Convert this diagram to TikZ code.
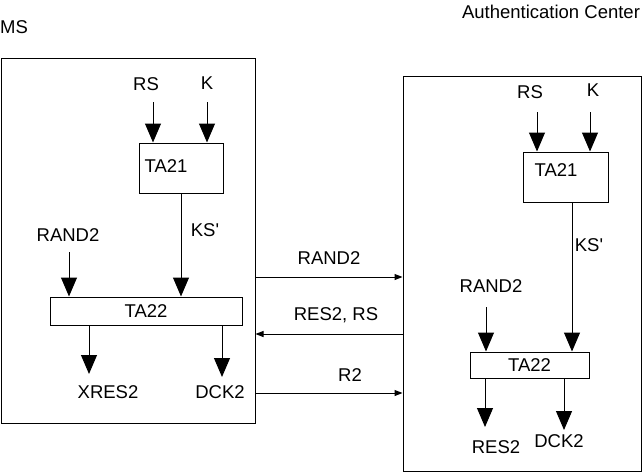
\documentclass[tikz,border=0pt]{standalone}
\usepackage{fontspec}
\setmainfont{Liberation Sans}
\usetikzlibrary{arrows.meta}
\begin{document}
\begin{tikzpicture}[x=1pt,y=-1pt,
  lbl/.style={inner sep=0pt,text height=13.2pt,text depth=0pt,font=\fontsize{18.5}{20}\selectfont},
  box/.style={draw,line width=1pt,inner sep=0pt,font=\fontsize{18.5}{20}\selectfont,text height=13.2pt,text depth=0pt},
  bigarr/.style={line width=1pt,-{Triangle[width=16pt,length=19pt]}},
  smallarr/.style={line width=1pt,-{Triangle[width=6pt,length=8pt]}},
  plain/.style={line width=1pt}]
\useasboundingbox (0,0) rectangle (642,472);
% outer boxes
\node[box,minimum width=254pt,minimum height=365pt] (msbox) at (128,240.5) {};
\node[box,minimum width=238pt,minimum height=395pt] (acbox) at (522,273.5) {};
\node[lbl] (mslbl) at (14,27) {MS};
\node[lbl] (aclbl) at (551,12) {Authentication Center};
% ---- MS side
\node[box,minimum width=84pt,minimum height=50pt] (ta21L) at (181,168) {};
\node[lbl] (ta21Lt) at (166,166) {TA21};
\node[box,minimum width=192pt,minimum height=28pt] (ta22L) at (146,311) {TA22};
\node[lbl] (rsL) at (146,84) {RS};
\node[lbl] (kL) at (207,83) {K};
\node[lbl] (ksL) at (205,230) {KS\textquotesingle};
\node[lbl] (randL) at (68,235) {RAND2};
\node[lbl] (xresL) at (108,392) {XRES2};
\node[lbl] (dckL) at (220,392) {DCK2};
\coordinate (rsLs) at (153,102);
\coordinate (kLs) at (207,102);
\coordinate (ksLx) at (181,0);
\coordinate (randLs) at (69,252);
\coordinate (xresLe) at (89,374);
\coordinate (dckLe) at (222,377);
\draw[bigarr] (rsLs) -- (rsLs |- ta21L.north);
\draw[bigarr] (kLs) -- (kLs |- ta21L.north);
\draw[bigarr] (ksLx |- ta21L.south) -- (ksLx |- ta22L.north);
\draw[bigarr] (randLs) -- (randLs |- ta22L.north);
\draw[bigarr] (xresLe |- ta22L.south) -- (xresLe);
\draw[bigarr] (dckLe |- ta22L.south) -- (dckLe);
% ---- middle
\node[lbl] (randM) at (329,258) {RAND2};
\node[lbl] (resM) at (336,314) {RES2, RS};
\node[lbl] (r2M) at (350,375) {R2};
\coordinate (m1) at (330,277);
\coordinate (m2) at (330,334);
\coordinate (m3) at (330,393);
\draw[smallarr] (msbox.east |- m1) -- (acbox.west |- m1);
\draw[smallarr] (acbox.west |- m2) -- (msbox.east |- m2);
\draw[smallarr] (msbox.east |- m3) -- (acbox.west |- m3);
% ---- AC side
\node[box,minimum width=85pt,minimum height=50pt] (ta21R) at (565.5,177) {};
\node[lbl] (ta21Rt) at (556,170) {TA21};
\node[box,minimum width=119pt,minimum height=26pt] (ta22R) at (529.5,365) {TA22};
\node[lbl] (rsR) at (530,92) {RS};
\node[lbl] (kR) at (593,90) {K};
\node[lbl] (ksR) at (589,245) {KS\textquotesingle};
\node[lbl] (randR) at (491,286) {RAND2};
\node[lbl] (resR) at (496,447) {RES2};
\node[lbl] (dckR) at (559,441) {DCK2};
\coordinate (rsRs) at (537,112);
\coordinate (kRs) at (590,112);
\coordinate (ksRx) at (572,0);
\coordinate (randRs) at (486,307);
\coordinate (resRe) at (485,427);
\coordinate (dckRe) at (564,430);
\draw[bigarr] (rsRs) -- (rsRs |- ta21R.north);
\draw[bigarr] (kRs) -- (kRs |- ta21R.north);
\draw[bigarr] (ksRx |- ta21R.south) -- (ksRx |- ta22R.north);
\draw[bigarr] (randRs) -- (randRs |- ta22R.north);
\draw[bigarr] (resRe |- ta22R.south) -- (resRe);
\draw[bigarr] (dckRe |- ta22R.south) -- (dckRe);
\end{tikzpicture}
\end{document}
